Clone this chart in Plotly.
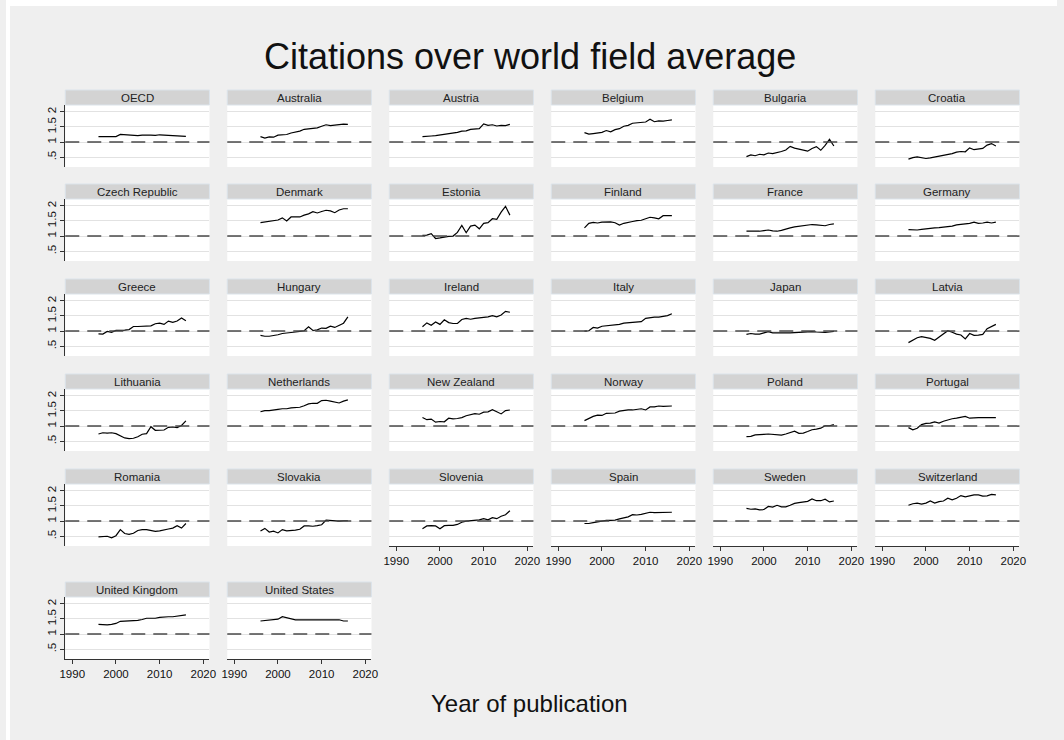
import plotly.graph_objects as go

# Publication years shared by every country series
years = list(range(1996, 2017))

# Citations relative to the world field average, one list per country
oecd = [1.18, 1.17, 1.18, 1.18, 1.18, 1.25, 1.24, 1.21, 1.20, 1.21, 1.23, 1.24, 1.23, 1.22, 1.24, 1.23, 1.22, 1.22, 1.21, 1.20, 1.19]
australia = [1.18, 1.13, 1.17, 1.16, 1.23, 1.25, 1.25, 1.30, 1.33, 1.36, 1.42, 1.43, 1.44, 1.47, 1.52, 1.57, 1.54, 1.56, 1.58, 1.59, 1.58]
austria = [1.18, 1.20, 1.20, 1.21, 1.23, 1.25, 1.27, 1.29, 1.32, 1.36, 1.37, 1.42, 1.44, 1.44, 1.60, 1.55, 1.57, 1.53, 1.55, 1.54, 1.58]
belgium = [1.31, 1.26, 1.28, 1.29, 1.32, 1.38, 1.34, 1.41, 1.44, 1.52, 1.55, 1.62, 1.64, 1.64, 1.66, 1.75, 1.67, 1.70, 1.69, 1.71, 1.73]
bulgaria = [0.52, 0.58, 0.55, 0.60, 0.58, 0.64, 0.62, 0.65, 0.69, 0.74, 0.86, 0.80, 0.77, 0.74, 0.70, 0.79, 0.85, 0.73, 0.89, 1.09, 0.87]
croatia = [0.44, 0.49, 0.51, 0.48, 0.46, 0.48, 0.51, 0.53, 0.55, 0.59, 0.62, 0.67, 0.69, 0.68, 0.81, 0.75, 0.76, 0.79, 0.90, 0.95, 0.87]
czech_republic = [None] * 21
denmark = [1.44, 1.46, 1.50, 1.52, 1.53, 1.60, 1.50, 1.63, 1.64, 1.63, 1.69, 1.73, 1.80, 1.76, 1.81, 1.85, 1.83, 1.77, 1.86, 1.90, 1.90]
estonia = [1.02, 1.03, 1.08, 0.92, 0.94, 0.97, 0.99, 1.00, 1.12, 1.35, 1.11, 1.33, 1.36, 1.24, 1.42, 1.44, 1.57, 1.55, 1.79, 1.98, 1.69]
finland = [1.27, 1.42, 1.45, 1.43, 1.46, 1.47, 1.47, 1.44, 1.36, 1.42, 1.44, 1.48, 1.51, 1.52, 1.57, 1.62, 1.60, 1.57, 1.67, 1.68, 1.67]
france = [1.16, 1.16, 1.14, 1.16, 1.18, 1.20, 1.17, 1.16, 1.19, 1.24, 1.27, 1.30, 1.32, 1.32, 1.36, 1.38, 1.37, 1.36, 1.34, 1.38, 1.40]
germany = [1.21, 1.20, 1.20, 1.22, 1.24, 1.27, 1.27, 1.28, 1.29, 1.31, 1.33, 1.37, 1.38, 1.39, 1.42, 1.46, 1.42, 1.43, 1.46, 1.43, 1.46]
greece = [0.91, 0.90, 0.99, 0.96, 1.02, 1.02, 1.03, 1.05, 1.15, 1.15, 1.16, 1.16, 1.17, 1.24, 1.26, 1.22, 1.33, 1.29, 1.33, 1.43, 1.34]
hungary = [0.86, 0.83, 0.83, 0.85, 0.88, 0.92, 0.93, 0.96, 0.97, 0.99, 1.01, 1.14, 1.02, 1.04, 1.10, 1.09, 1.16, 1.12, 1.19, 1.26, 1.47]
ireland = [1.14, 1.27, 1.19, 1.30, 1.22, 1.37, 1.28, 1.25, 1.25, 1.38, 1.42, 1.39, 1.42, 1.43, 1.44, 1.47, 1.51, 1.47, 1.53, 1.65, 1.62]
italy = [1.00, 1.01, 1.12, 1.10, 1.16, 1.17, 1.18, 1.19, 1.22, 1.26, 1.27, 1.30, 1.31, 1.31, 1.42, 1.45, 1.46, 1.46, 1.49, 1.51, 1.57]
japan = [0.89, 0.92, 0.90, 0.90, 0.94, 0.98, 0.94, 0.94, 0.92, 0.92, 0.94, 0.95, 0.96, 0.95, 0.97, 0.98, 0.97, 0.96, 0.96, 0.97, 0.99]
latvia = [0.62, 0.71, 0.78, 0.82, 0.79, 0.76, 0.70, 0.80, 0.91, 1.01, 0.96, 0.90, 0.87, 0.74, 0.92, 0.86, 0.87, 0.89, 1.08, 1.14, 1.22]
lithuania = [0.74, 0.78, 0.77, 0.78, 0.75, 0.67, 0.61, 0.59, 0.60, 0.65, 0.73, 0.75, 0.98, 0.86, 0.86, 0.87, 0.96, 0.97, 0.95, 1.02, 1.17]
netherlands = [1.47, 1.51, 1.51, 1.54, 1.55, 1.57, 1.57, 1.60, 1.61, 1.62, 1.67, 1.73, 1.75, 1.75, 1.84, 1.85, 1.82, 1.78, 1.76, 1.82, 1.86]
new_zealand = [1.28, 1.21, 1.23, 1.13, 1.15, 1.14, 1.26, 1.24, 1.25, 1.28, 1.34, 1.37, 1.41, 1.39, 1.46, 1.47, 1.54, 1.47, 1.40, 1.51, 1.53]
norway = [1.18, 1.26, 1.32, 1.36, 1.35, 1.42, 1.43, 1.43, 1.49, 1.52, 1.53, 1.53, 1.54, 1.57, 1.53, 1.63, 1.63, 1.66, 1.65, 1.65, 1.66]
poland = [0.65, 0.66, 0.71, 0.73, 0.73, 0.74, 0.72, 0.70, 0.70, 0.74, 0.78, 0.83, 0.76, 0.77, 0.82, 0.88, 0.90, 0.93, 1.01, 1.01, 1.05]
portugal = [0.95, 0.88, 0.93, 1.05, 1.09, 1.10, 1.14, 1.10, 1.16, 1.21, 1.24, 1.26, 1.28, 1.32, 1.26, 1.28, 1.28, 1.28, 1.28, 1.29, 1.28]
romania = [0.48, 0.49, 0.50, 0.45, 0.52, 0.72, 0.59, 0.56, 0.60, 0.69, 0.72, 0.72, 0.69, 0.66, 0.68, 0.72, 0.74, 0.77, 0.85, 0.77, 0.92]
slovakia = [0.67, 0.76, 0.64, 0.67, 0.61, 0.72, 0.68, 0.68, 0.70, 0.73, 0.84, 0.84, 0.83, 0.85, 0.88, 1.03, 1.02, 1.00, 1.00, 1.01, 1.01]
slovenia = [0.75, 0.84, 0.85, 0.84, 0.75, 0.85, 0.86, 0.86, 0.89, 0.96, 1.00, 1.01, 1.01, 1.04, 1.08, 1.04, 1.11, 1.08, 1.16, 1.21, 1.34]
spain = [0.92, 0.92, 0.95, 0.97, 1.01, 1.02, 1.02, 1.03, 1.07, 1.10, 1.14, 1.21, 1.20, 1.22, 1.26, 1.29, 1.28, 1.28, 1.29, 1.29, 1.29]
sweden = [1.42, 1.39, 1.40, 1.37, 1.38, 1.48, 1.46, 1.52, 1.47, 1.47, 1.52, 1.58, 1.61, 1.62, 1.65, 1.73, 1.67, 1.67, 1.72, 1.63, 1.66]
switzerland = [1.52, 1.57, 1.59, 1.56, 1.59, 1.66, 1.59, 1.64, 1.66, 1.75, 1.70, 1.75, 1.84, 1.80, 1.83, 1.86, 1.86, 1.82, 1.83, 1.88, 1.86]
united_kingdom = [1.32, 1.30, 1.30, 1.32, 1.35, 1.42, 1.43, 1.43, 1.43, 1.45, 1.48, 1.52, 1.52, 1.52, 1.55, 1.57, 1.57, 1.57, 1.59, 1.59, 1.63]
united_states = [1.43, 1.44, 1.46, 1.46, 1.49, 1.57, 1.54, 1.49, 1.47, 1.47, 1.47, 1.47, 1.48, 1.49, 1.49, 1.49, 1.48, 1.47, 1.47, 1.43, 1.43]

panel_names = [
    "OECD", "Australia", "Austria", "Belgium", "Bulgaria", "Croatia",
    "Czech Republic", "Denmark", "Estonia", "Finland", "France", "Germany",
    "Greece", "Hungary", "Ireland", "Italy", "Japan", "Latvia",
    "Lithuania", "Netherlands", "New Zealand", "Norway", "Poland", "Portugal",
    "Romania", "Slovakia", "Slovenia", "Spain", "Sweden", "Switzerland",
    "United Kingdom", "United States",
]
panel_series = [
    oecd, australia, austria, belgium, bulgaria, croatia,
    czech_republic, denmark, estonia, finland, france, germany,
    greece, hungary, ireland, italy, japan, latvia,
    lithuania, netherlands, new_zealand, norway, poland, portugal,
    romania, slovakia, slovenia, spain, sweden, switzerland,
    united_kingdom, united_states,
]

y_tickvals = [0.5, 1, 1.5, 2]
y_ticktext = [".5", "1", "1.5", "2"]
x_tickvals = [1990, 2000, 2010, 2020]
reference_level = 1

# Page geometry (pixels)
W, H = 1064, 740
COL_LEFT, COL_STEP, PANEL_W = 60, 164, 146
STRIP_TOPS = [90, 184, 279, 374, 469, 582]
STRIP_H, PLOT_H = 15, 62
NCOLS = 6

FONT = "Arial, 'Liberation Sans', sans-serif"
AXIS_COLOR = "#333333"
GRID_COLOR = "#e2e2e2"
TEXT_COLOR = "#111111"

fig = go.Figure()
shapes = []
annotations = []

# Thin white margin along the top and left of the grey page
shapes.append(dict(type="rect", xref="paper", yref="paper",
                   x0=0, x1=4 / W, y0=0, y1=1,
                   fillcolor="#ffffff", line=dict(width=0), layer="below"))
shapes.append(dict(type="rect", xref="paper", yref="paper",
                   x0=0, x1=1, y0=1 - 6 / H, y1=1,
                   fillcolor="#ffffff", line=dict(width=0), layer="below"))

n_panels = len(panel_names)
for i, (name, vals) in enumerate(zip(panel_names, panel_series)):
    r, c = divmod(i, NCOLS)
    n = i + 1
    xs = "" if n == 1 else str(n)
    x0 = COL_LEFT + COL_STEP * c
    x1 = x0 + PANEL_W
    strip_top = STRIP_TOPS[r]
    plot_top = strip_top + STRIP_H
    plot_bot = plot_top + PLOT_H
    is_left = c == 0
    is_bottom = i + NCOLS >= n_panels

    fig.add_trace(go.Scatter(
        x=years, y=vals, mode="lines",
        line=dict(color="#000000", width=1.2),
        xaxis="x" + xs, yaxis="y" + xs,
        showlegend=False, hoverinfo="x+y", name=name,
    ))

    xaxis = dict(
        domain=[x0 / W, x1 / W], anchor="y" + xs,
        range=[1988.4, 2021.4], showgrid=False, zeroline=False,
        fixedrange=True,
    )
    if is_bottom:
        xaxis.update(showline=True, linecolor=AXIS_COLOR, linewidth=1.2,
                     ticks="outside", ticklen=4, tickwidth=1.2, tickcolor=AXIS_COLOR,
                     tickvals=x_tickvals, showticklabels=True,
                     tickfont=dict(size=11.5, color=TEXT_COLOR, family=FONT))
    else:
        xaxis.update(showline=False, ticks="", showticklabels=False)

    yaxis = dict(
        domain=[1 - plot_bot / H, 1 - plot_top / H], anchor="x" + xs,
        range=[0.18, 2.22], tickvals=y_tickvals, ticktext=y_ticktext,
        showgrid=True, gridcolor=GRID_COLOR, gridwidth=1.3, zeroline=False,
        fixedrange=True,
    )
    if is_left:
        yaxis.update(showline=True, linecolor=AXIS_COLOR, linewidth=1.2,
                     ticks="outside", ticklen=4, tickwidth=1.2, tickcolor=AXIS_COLOR,
                     showticklabels=True, tickangle=-90,
                     tickfont=dict(size=11.5, color=TEXT_COLOR, family=FONT))
    else:
        yaxis.update(showline=False, ticks="", showticklabels=False)

    fig.layout["xaxis" + xs] = xaxis
    fig.layout["yaxis" + xs] = yaxis

    # Dashed reference line at the world average
    shapes.append(dict(type="line", xref="x" + xs + " domain", yref="y" + xs,
                       x0=0, x1=1, y0=reference_level, y1=reference_level,
                       line=dict(color="#4a4a4a", width=1.5, dash="14px,8px"),
                       layer="above"))

    # Panel header strip
    shapes.append(dict(type="rect", xref="paper", yref="paper",
                       x0=x0 / W, x1=x1 / W,
                       y0=1 - (strip_top + STRIP_H) / H, y1=1 - strip_top / H,
                       fillcolor="#d3d3d3", line=dict(color="#dbe3ea", width=1)))
    annotations.append(dict(xref="paper", yref="paper",
                            x=(x0 + x1) / 2 / W, y=1 - (strip_top + STRIP_H / 2) / H,
                            text=name, showarrow=False, xanchor="center", yanchor="middle",
                            font=dict(size=11.5, color="#222222", family=FONT)))

annotations.append(dict(xref="paper", yref="paper", x=530 / W, y=1 - 56 / H,
                        text="Citations over world field average", showarrow=False,
                        xanchor="center", yanchor="middle",
                        font=dict(size=36, color=TEXT_COLOR, family=FONT)))
annotations.append(dict(xref="paper", yref="paper", x=530 / W, y=1 - 703 / H,
                        text="Year of publication", showarrow=False,
                        xanchor="center", yanchor="middle",
                        font=dict(size=24, color=TEXT_COLOR, family=FONT)))

fig.update_layout(
    width=W, height=H, autosize=False,
    margin=dict(l=0, r=0, t=0, b=0, pad=0),
    paper_bgcolor="#efefef", plot_bgcolor="#ffffff",
    shapes=shapes, annotations=annotations,
    font=dict(family=FONT, color=TEXT_COLOR),
)

fig.write_html("out.html", config={"displayModeBar": False})
